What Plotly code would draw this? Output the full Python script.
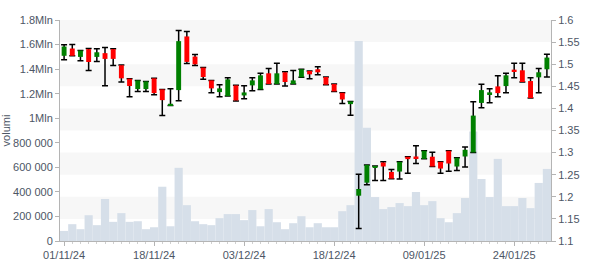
import plotly.graph_objects as go

dates = [
    "01/11/24", "04/11/24", "05/11/24", "06/11/24", "07/11/24", "08/11/24", "11/11/24", "12/11/24",
    "13/11/24", "14/11/24", "15/11/24", "18/11/24", "19/11/24", "20/11/24", "21/11/24", "22/11/24",
    "25/11/24", "26/11/24", "27/11/24", "28/11/24", "29/11/24",
    "02/12/24", "03/12/24", "04/12/24", "05/12/24", "06/12/24", "09/12/24", "10/12/24", "11/12/24",
    "12/12/24", "13/12/24", "16/12/24", "17/12/24", "18/12/24", "19/12/24", "20/12/24", "23/12/24",
    "27/12/24", "30/12/24",
    "02/01/25", "03/01/25", "06/01/25", "07/01/25", "08/01/25", "09/01/25", "10/01/25", "13/01/25",
    "14/01/25", "15/01/25", "16/01/25", "17/01/25", "20/01/25", "21/01/25", "22/01/25", "23/01/25",
    "24/01/25", "27/01/25", "28/01/25", "29/01/25", "30/01/25",
]

open_ = [1.519, 1.5355, 1.5165, 1.534, 1.5165, 1.525, 1.534, 1.4976, 1.4672, 1.4437,
         1.4437, 1.468, 1.443, 1.4065, 1.4414, 1.5628, 1.5173, 1.4923, 1.4634, 1.4369,
         1.4278, 1.4521, 1.4293, 1.4521, 1.443, 1.4794, 1.4551, 1.4817, 1.4551, 1.4703,
         1.4847, 1.4885, 1.471, 1.4551, 1.4354, 1.4097, 1.2025, 1.232, 1.2654, 1.2776,
         1.2563, 1.2571, 1.2905, 1.2912, 1.2859, 1.2907, 1.2791, 1.3041, 1.2685, 1.2912,
         1.3003, 1.4124, 1.4323, 1.4498, 1.4505, 1.4877, 1.4862, 1.4619, 1.4703, 1.4885]
close = [1.540, 1.519, 1.531, 1.505, 1.527, 1.512, 1.512, 1.468, 1.4506, 1.4634,
         1.4611, 1.4346, 1.4187, 1.4065, 1.5522, 1.5052, 1.4998, 1.471, 1.4453, 1.4453,
         1.4657, 1.418, 1.4361, 1.4634, 1.4748, 1.4551, 1.4794, 1.4597, 1.4634, 1.4885,
         1.4771, 1.4817, 1.4536, 1.4384, 1.4202, 1.4158, 1.2177, 1.2722, 1.2699, 1.2685,
         1.2411, 1.2791, 1.2852, 1.2867, 1.3041, 1.2685, 1.2639, 1.2753, 1.2882, 1.3064,
         1.3837, 1.4414, 1.4361, 1.4346, 1.4748, 1.4824, 1.4597, 1.4233, 1.4817, 1.515]
high = [1.544, 1.5446, 1.531, 1.5355, 1.535, 1.538, 1.535, 1.498, 1.4672, 1.4634,
        1.4611, 1.468, 1.443, 1.4445, 1.5765, 1.5742, 1.5219, 1.4923, 1.4634, 1.4536,
        1.4695, 1.4521, 1.4513, 1.4695, 1.4794, 1.49, 1.5021, 1.4832, 1.4857, 1.4885,
        1.4847, 1.4945, 1.471, 1.4551, 1.4354, 1.4158, 1.251, 1.2722, 1.2699, 1.2791,
        1.2617, 1.2791, 1.2905, 1.3155, 1.3041, 1.301, 1.2791, 1.3041, 1.2882, 1.3125,
        1.4149, 1.4544, 1.4445, 1.474, 1.4794, 1.5021, 1.5021, 1.4695, 1.49, 1.5227]
low = [1.510, 1.519, 1.508, 1.4855, 1.506, 1.451, 1.497, 1.460, 1.4263, 1.4384,
       1.4384, 1.4308, 1.3837, 1.4065, 1.4172, 1.5014, 1.4968, 1.4657, 1.4354, 1.4263,
       1.4278, 1.4165, 1.4217, 1.4399, 1.443, 1.4551, 1.4551, 1.4505, 1.4551, 1.4703,
       1.4672, 1.4763, 1.4536, 1.4384, 1.4111, 1.3845, 1.128, 1.2275, 1.2366, 1.2366,
       1.2411, 1.2404, 1.2533, 1.2753, 1.2859, 1.2685, 1.2533, 1.2579, 1.2594, 1.2677,
       1.3003, 1.4012, 1.4126, 1.4263, 1.4354, 1.4695, 1.4597, 1.4233, 1.4354, 1.471]
volume = [82000, 137000, 96000, 210000, 129000, 342000, 156000, 227000, 156000, 161000,
          96000, 112000, 442000, 120000, 596000, 292000, 161000, 137000, 129000, 186000,
          219000, 219000, 170000, 252000, 120000, 260000, 153000, 96000, 145000, 202000,
          112000, 145000, 112000, 112000, 243000, 292000, 1628000, 923000, 358000, 260000,
          276000, 309000, 284000, 399000, 292000, 325000, 186000, 153000, 227000, 350000,
          891000, 505000, 358000, 669000, 284000, 284000, 350000, 268000, 473000, 587000]

label_every = 11
vol_ticks = [0, 200000, 400000, 600000, 800000, 1000000, 1200000, 1400000, 1600000, 1800000]
vol_labels = ["0", "200 000", "400 000", "600 000", "800 000", "1Mln", "1.2Mln", "1.4Mln", "1.6Mln", "1.8Mln"]
price_ticks = [1.1, 1.15, 1.2, 1.25, 1.3, 1.35, 1.4, 1.45, 1.5, 1.55, 1.6]
price_labels = ["1.1", "1.15", "1.2", "1.25", "1.3", "1.35", "1.4", "1.45", "1.5", "1.55", "1.6"]

x = list(range(len(dates)))
GREEN = "#008000"
RED = "#ff0000"
AXIS = "#b4b4b4"
TXT = "#4d5665"
FONT = "Liberation Sans, Arial, sans-serif"

fig = go.Figure()

fig.add_trace(go.Bar(x=x, y=volume, width=1, marker=dict(color="#d6dfe9", line=dict(width=0)),
                     yaxis="y", showlegend=False, hoverinfo="skip"))

fig.add_trace(go.Scatter(
    x=x, y=low, mode="markers", marker=dict(size=1, color="rgba(0,0,0,0)"),
    error_y=dict(type="data", symmetric=False, array=[h - l for h, l in zip(high, low)],
                 arrayminus=[0] * len(low), color="#000000", thickness=1.5, width=3),
    yaxis="y2", showlegend=False, hoverinfo="skip"))

body_base = [min(o, c) for o, c in zip(open_, close)]
body_h = [max(abs(c - o), 0.004) for o, c in zip(open_, close)]
body_col = [GREEN if c >= o else RED for o, c in zip(open_, close)]
fig.add_trace(go.Bar(x=x, y=body_h, base=body_base, width=0.6,
                     marker=dict(color=body_col, line=dict(width=0)),
                     yaxis="y3", showlegend=False, hoverinfo="skip"))

shapes = []
for i in range(1, len(price_ticks) - 1, 2):
    shapes.append(dict(type="rect", xref="paper", yref="y2", x0=0, x1=1,
                       y0=price_ticks[i], y1=price_ticks[i + 1],
                       fillcolor="#f7f7f7", line=dict(width=0), layer="below"))

tickpos = x[::label_every]
fig.update_layout(
    width=600, height=270,
    margin=dict(l=60, r=49, t=20, b=29, autoexpand=False),
    paper_bgcolor="white", plot_bgcolor="white",
    barmode="overlay",
    font=dict(family=FONT, size=11, color=TXT),
    shapes=shapes,
    xaxis=dict(range=[-0.5, len(dates) - 0.5], tickmode="array", tickvals=tickpos,
               ticktext=[dates[i] for i in tickpos], ticks="outside", ticklen=4,
               tickcolor=AXIS, showline=True, linecolor=AXIS, linewidth=1, automargin=False,
               showgrid=False, zeroline=False, tickfont=dict(size=11, color=TXT),
               minor=dict(tickmode="linear", tick0=0, dtick=1, ticks="outside",
                          ticklen=2, tickcolor="#d0d0d0", showgrid=False)),
    yaxis=dict(range=[0, 1800000], tickmode="array", tickvals=vol_ticks, ticktext=vol_labels,
               ticks="outside", ticklen=4, tickcolor=AXIS, showline=True, linecolor=AXIS,
               showgrid=False, zeroline=False, automargin=False,
               title=dict(text="volumi", font=dict(size=11, color=TXT), standoff=4)),
    yaxis2=dict(range=[1.1, 1.6], overlaying="y", side="right", tickmode="array",
                tickvals=price_ticks, ticktext=price_labels, ticks="outside", ticklen=4,
                tickcolor=AXIS, showline=True, linecolor=AXIS, showgrid=False, zeroline=False,
                automargin=False),
    yaxis3=dict(range=[1.1, 1.6], overlaying="y", visible=False),
)

fig.write_html("out.html")
